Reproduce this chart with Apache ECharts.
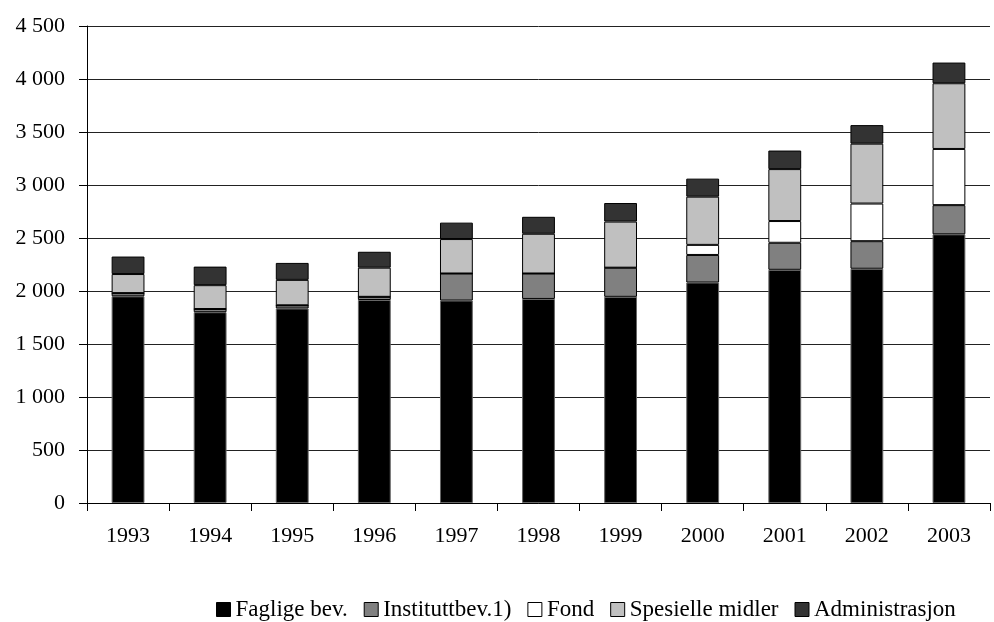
<!DOCTYPE html>
<html>
<head>
<meta charset="utf-8">
<script src="https://cdn.jsdelivr.net/npm/echarts@6/dist/echarts.min.js"></script>
<style>html,body{margin:0;padding:0;background:#fff}#c{width:994px;height:622px}</style>
</head>
<body>
<div id="c"></div>
<script>
const years = ['1993','1994','1995','1996','1997','1998','1999','2000','2001','2002','2003'];
const faglige = [1950, 1800, 1835, 1915, 1910, 1925, 1945, 2080, 2200, 2210, 2535];
const institutt = [30, 30, 30, 30, 255, 240, 275, 260, 255, 260, 275];
const fond = [0, 0, 0, 0, 0, 0, 0, 95, 205, 355, 530];
const spesielle = [180, 225, 240, 275, 325, 375, 435, 455, 490, 565, 620];
const admin = [165, 175, 160, 150, 155, 160, 175, 170, 175, 175, 195];
const yTicks = [0, 500, 1000, 1500, 2000, 2500, 3000, 3500, 4000, 4500];

const font = 'Liberation Serif';
function fmt(v){ return String(v).replace(/\B(?=(\d{3})+(?!\d))/g, ' '); }
function s(name, data, color, border){
  return {name, type:'bar', stack:'t', data, barWidth:'40%',
    itemStyle:{color, borderColor:border||'#000', borderWidth:1}};
}
const chart = echarts.init(document.getElementById('c'), null, {renderer:'canvas'});
chart.setOption({
  animation:false,
  backgroundColor:'#fff',
  grid:{left:87, right:4, top:26, bottom:119},
  legend:{
    top:593, left:211, itemWidth:14, itemHeight:14, itemGap:16,
    icon:'rect',
    itemStyle:{borderColor:'#000', borderWidth:1},
    textStyle:{fontFamily:font, fontSize:23, color:'#000'},
    data:['Faglige bev.','Instituttbev.1)','Fond','Spesielle midler','Administrasjon']
  },
  xAxis:{
    type:'category', data:years,
    axisLine:{lineStyle:{color:'#000', width:1}},
    axisTick:{show:true, length:8, lineStyle:{color:'#000'}},
    axisLabel:{fontFamily:font, fontSize:22, color:'#000', margin:22}
  },
  yAxis:{
    type:'value', min:yTicks[0], max:yTicks[yTicks.length-1], interval:500,
    axisLine:{show:true, lineStyle:{color:'#000', width:1}},
    axisTick:{show:true, length:8, lineStyle:{color:'#000'}},
    splitLine:{lineStyle:{color:'#222', width:1}},
    axisLabel:{fontFamily:font, fontSize:22, color:'#000', margin:22, formatter:fmt}
  },
  series:[
    s('Faglige bev.', faglige, '#000000', '#666'),
    s('Instituttbev.1)', institutt, '#808080'),
    s('Fond', fond, '#ffffff'),
    s('Spesielle midler', spesielle, '#c0c0c0'),
    s('Administrasjon', admin, '#333333')
  ]
});
</script>
</body>
</html>
